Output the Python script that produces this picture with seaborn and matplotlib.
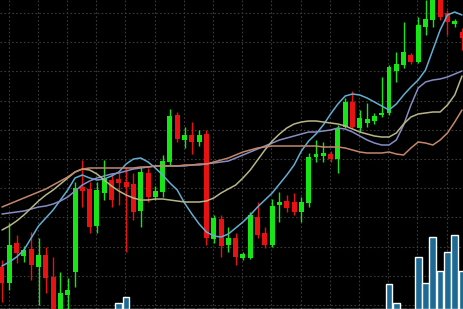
import numpy as np
import pandas as pd
import matplotlib
matplotlib.use("Agg")
import matplotlib.pyplot as plt
import seaborn as sns

# ---- data ----
opens = [42, 26, 66, 53, 60, 42, 54, 32, -3, 14,
         37, 122, 120, 83, 116, 129, 130, 127, 125, 98,
         136, 112, 117, 147, 194, 169, 174, 167, 175, 70,
         90, 64, 71, 51, 51, 92, 76, 64, 104, 108,
         107, 97, 106, 152, 153, 155, 150, 182, 207, 181,
         186, 188, 194, 196, 238, 244, 254, 247, 282, 289,
         312, 296, 285, 277]
highs = [49, 86, 74, 63, 77, 71, 62, 52, 37, 31,
         127, 149, 127, 127, 149, 136, 136, 142, 136, 142,
         141, 123, 154, 200, 197, 182, 187, 179, 179, 94,
         94, 82, 76, 57, 97, 107, 82, 110, 117, 114,
         116, 112, 156, 169, 167, 158, 184, 211, 218, 199,
         206, 196, 232, 244, 257, 287, 256, 292, 309, 314,
         314, 299, 290, 281]
lows = [7, 19, 46, 47, 29, 4, 16, -3, -3, 0,
        22, 102, 76, 76, 109, 102, 104, 57, 89, 82,
        107, 109, 112, 144, 167, 161, 155, 163, 64, 66,
        52, 57, 44, 49, 50, 71, 61, 62, 87, 97,
        94, 87, 102, 147, 147, 147, 136, 181, 181, 177,
        182, 185, 192, 194, 227, 241, 245, 246, 274, 282,
        289, 274, 282, 259]
closes = [26, 64, 56, 59, 44, 54, 31, -2, 16, 19,
          121, 118, 82, 119, 131, 109, 126, 122, 97, 137,
          112, 118, 148, 193, 170, 174, 167, 174, 71, 91,
          63, 71, 52, 55, 94, 74, 64, 103, 107, 101,
          97, 107, 152, 155, 156, 150, 181, 207, 182, 191,
          190, 193, 196, 242, 245, 257, 247, 284, 290, 312,
          292, 287, 288, 271]
volume = [0, 0, 0, 0, 0, 0, 0, 0, 0, 0,
          0, 0, 0, 0, 0, 0, 6, 12, 0, 0,
          0, 0, 0, 0, 0, 0, 0, 0, 0, 0,
          0, 0, 0, 0, 0, 0, 0, 0, 0, 0,
          0, 0, 0, 0, 0, 0, 0, 0, 0, 0,
          0, 0, 0, 25, 6, 0, 0, 52, 26, 72,
          38, 57, 74, 38]
ma_fast = [43, 47, 52, 59, 71, 83, 91, 99, 109, 119,
           131, 134, 131, 129, 130, 133, 137, 145, 150, 151,
           147, 141, 134, 126, 119, 106, 95, 85, 77, 73,
           72, 75, 81, 87, 94, 102, 109, 116, 125, 134,
           144, 158, 168, 175, 184, 195, 205, 213, 215, 214,
           211, 207, 203, 199, 205, 214, 222, 229, 239, 259,
           279, 294, 297, 294]
ma_mid = [95, 96, 97, 98, 100, 102, 103, 105, 108, 112,
          118, 124, 128, 131, 133, 135, 136, 138, 140, 141,
          142, 143, 143, 143, 143, 143, 144, 144, 145, 146,
          147, 148, 151, 154, 157, 160, 163, 166, 169, 171,
          173, 175, 177, 177, 178, 179, 181, 180, 177, 173,
          169, 166, 164, 164, 169, 184, 204, 221, 227, 229,
          230, 232, 235, 238]
ma_slow = [79, 83, 88, 94, 101, 108, 114, 119, 125, 131,
           137, 140, 139, 135, 129, 123, 118, 114, 111, 109,
           109, 110, 110, 109, 108, 107, 107, 107, 108, 111,
           116, 120, 124, 131, 139, 149, 159, 168, 175, 181,
           185, 187, 188, 188, 187, 186, 185, 183, 180, 177,
           175, 173, 172, 172, 176, 185, 192, 195, 196, 197,
           197, 204, 214, 233]
ma_long = [102, 105, 108, 111, 114, 117, 120, 124, 128, 132,
           137, 140, 141, 141, 141, 141, 141, 141, 141, 142,
           142, 143, 143, 143, 143, 144, 144, 145, 145, 147,
           149, 151, 154, 157, 159, 161, 162, 163, 163, 163,
           163, 163, 163, 163, 162, 162, 162, 161, 159, 157,
           156, 156, 156, 157, 155, 154, 161, 167, 166, 164,
           169, 176, 187, 199]

idx = np.arange(len(opens))
df = pd.DataFrame({"i": idx, "open": opens, "high": highs, "low": lows,
                   "close": closes, "vol": volume})
ma_df = pd.DataFrame({"i": np.tile(idx, 4),
                      "value": ma_fast + ma_mid + ma_slow + ma_long,
                      "ma": (["fast"] * len(idx) + ["mid"] * len(idx) +
                             ["slow"] * len(idx) + ["long"] * len(idx))})

sns.set_theme(style="dark")
fig = plt.figure(figsize=(4.64, 3.09), dpi=100, facecolor="black")
ax = fig.add_axes([0, 0, 1, 1])
ax.set_facecolor("black")

# grid
ax.set_xticks(np.arange(0.9, 64, 4))
ax.set_yticks(np.arange(4, 309, 29.2))
ax.grid(True, color="#3a3a3a", linestyle=(0, (1.5, 2)), linewidth=0.8)
ax.tick_params(length=0, labelbottom=False, labelleft=False)
for s in ax.spines.values():
    s.set_visible(False)

# volume
ax.bar(df["i"], df["vol"], width=0.92, bottom=0, color="#1d6a94", zorder=1)

# candles
green = "#16e616"
red = "#e81212"
up = df["close"] >= df["open"]
colors = np.where(up, green, red)
ax.vlines(df["i"], df["low"], df["high"], colors=colors, linewidth=1.0, zorder=2)
body_bottom = np.minimum(df["open"], df["close"])
body_h = np.maximum(np.abs(df["close"] - df["open"]), 2)
ax.bar(df["i"], body_h, bottom=body_bottom, width=0.68, color=colors,
       linewidth=0, zorder=3)

# moving averages
palette = {"fast": "#62aed2", "mid": "#878cc4", "slow": "#b8b688", "long": "#c4876c"}
sns.lineplot(data=ma_df, x="i", y="value", hue="ma", palette=palette,
             linewidth=1.1, legend=False, ax=ax, zorder=4)

ax.set_xlim(-0.274, 63.27)
ax.set_ylim(0, 309)
ax.set_xlabel("")
ax.set_ylabel("")

fig.savefig("out.png", dpi=100, facecolor="black")
